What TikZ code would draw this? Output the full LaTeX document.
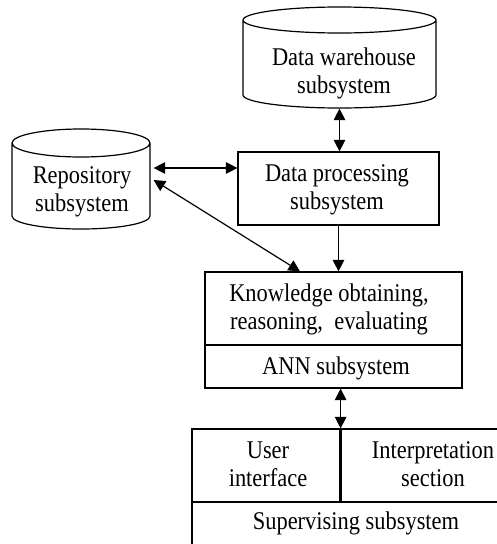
\documentclass[tikz,border=0pt]{standalone}
\usepackage{fontspec}
\setmainfont{Liberation Serif}[FakeStretch=0.88]
\usetikzlibrary{arrows.meta}
\begin{document}
\begin{tikzpicture}[x=1pt,y=-1pt,
  line width=1.2pt,
  txt/.style={align=center,inner sep=0pt,font=\fontsize{25.5}{28}\selectfont},
  body/.style={draw=none,inner sep=0pt,minimum width=#1},
  boxed/.style={draw,inner sep=0pt},
  dar/.style={{Triangle[length=11.5pt,width=11.5pt]}-{Triangle[length=11.5pt,width=11.5pt]}},
  sar/.style={-{Triangle[length=11.5pt,width=11.5pt]}}]
\useasboundingbox (0,0) rectangle (496,544);

% data warehouse cylinder
\draw (243,20) arc[start angle=180,end angle=-180,x radius=96.5,y radius=13]
      (243,20) -- (243,95) arc[start angle=180,end angle=0,x radius=96.5,y radius=13] -- (436,20);
\node[body=193pt,minimum height=88pt] (wh) at (339.5,64) {};
\node[txt] (whtext) at (344,73) {Data warehouse\\ subsystem};

% repository cylinder
\draw (12,143) arc[start angle=180,end angle=-180,x radius=69,y radius=14]
      (12,143) -- (12,216) arc[start angle=180,end angle=0,x radius=69,y radius=13] -- (150,143);
\node[body=138pt,minimum height=86pt] (repo) at (81,186) {};
\node[txt] (repotext) at (82,192) {Repository\\subsystem};

% data processing
\node[boxed,minimum width=201pt,minimum height=73pt] (dp) at (338.5,188.5) {};
\node[txt] (dptext) at (337,190) {Data processing\\subsystem};

% knowledge / ANN block
\node[boxed,minimum width=257pt,minimum height=116pt] (kn) at (333.5,330) {};
\draw (kn.west |- 0,345) -- (kn.east |- 0,345);
\node[txt] (kntext) at (329,309) {Knowledge obtaining,\\reasoning,~ evaluating};
\node[txt] (ann) at (336,368) {ANN subsystem};

% supervising block
\node[boxed,minimum width=148pt,minimum height=73pt] (ui) at (266,465.5) {};
\node[boxed,minimum width=180pt,minimum height=73pt] (ip) at (430,465.5) {};
\node[boxed,minimum width=328pt,minimum height=70pt] (sup) at (356,537) {};
\draw[line width=2.2pt] (ui.north east) -- (ui.south east);
\node[txt] (uitext) at (268,464) {User\\interface};
\node[txt] (iptext) at (433,464) {Interpretation\\section};
\node[txt] (suptext) at (356,523) {Supervising subsystem};

% connectors
\draw[dar] (wh.south) -- (wh.south |- dp.north);
\draw[dar] ([xshift=3pt,yshift=18pt]repo.east) -- ([yshift=18pt]repo.east -| dp.west);
\draw[dar] ([xshift=3pt,yshift=6pt]repo.east) -- ([xshift=-33.5pt]kn.north);
\draw[sar] (dp.south) -- (dp.south |- kn.north);
\draw[dar] (kn.south -| ui.north east) -- (ui.north east);
\end{tikzpicture}
\end{document}
